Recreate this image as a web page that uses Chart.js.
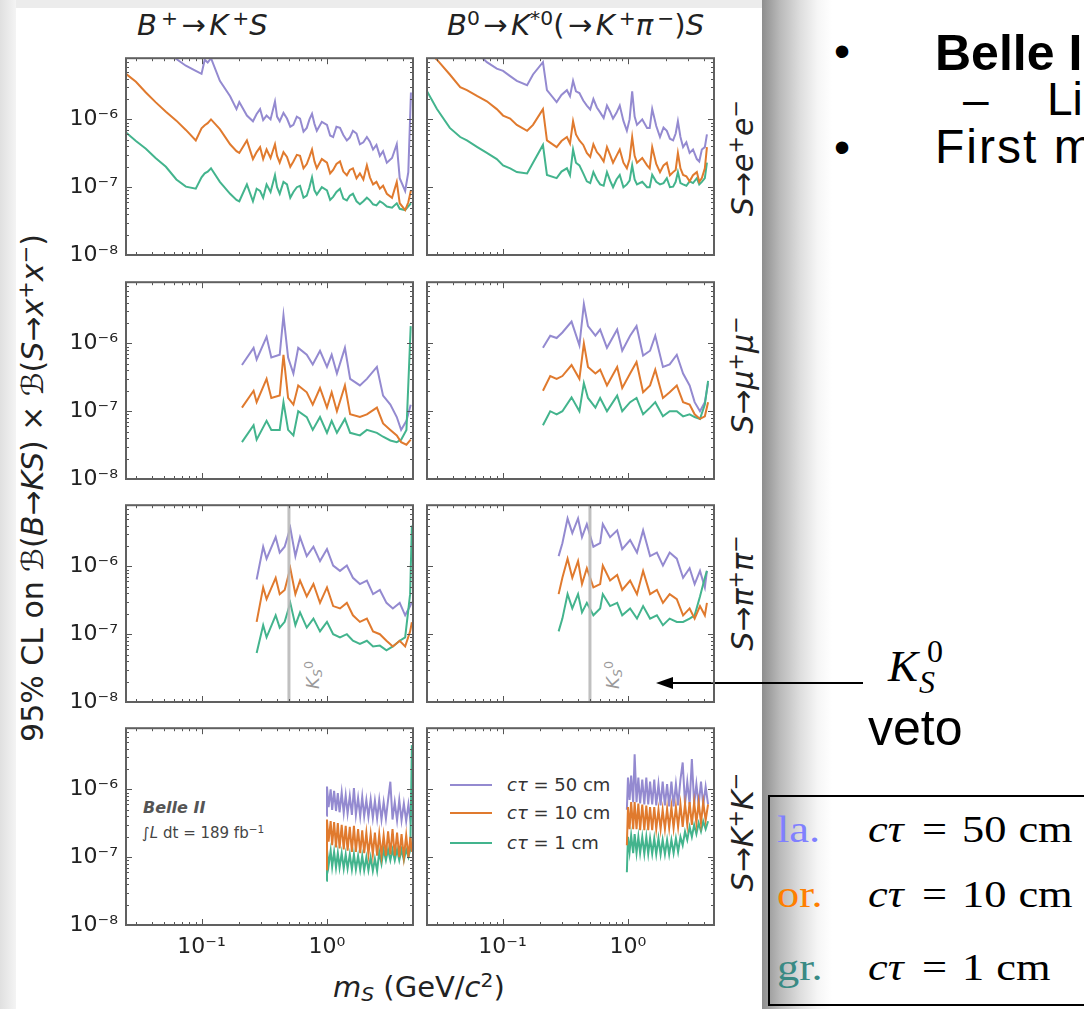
<!DOCTYPE html>
<html>
<head>
<meta charset="utf-8">
<script src="https://cdn.jsdelivr.net/npm/chart.js"></script>
<style>
html,body{margin:0;padding:0}
body{position:relative;width:1084px;height:1009px;overflow:hidden;background:#fff;font-family:"Liberation Sans",Arial,Helvetica,sans-serif;color:#000}
.a{position:absolute;white-space:nowrap;line-height:1}
.rot{position:absolute;white-space:nowrap;line-height:1;transform:translate(-50%,-50%) rotate(-90deg)}
.dv{font-family:"DejaVu Sans",sans-serif;color:#222}
.dv sup{font-size:0.7em;vertical-align:0.5em;line-height:0}
.dv sub{font-size:0.7em;vertical-align:-0.22em;line-height:0}
.rel{margin:0 0.12em}
canvas{position:absolute}
.serif{font-family:"Liberation Serif","Times New Roman",serif}
.wide{transform:scaleX(1.2);transform-origin:0 0}
</style>
</head>
<body>
<!-- slide background pieces -->
<div class="a" style="left:0;top:0;width:762px;height:8px;background:#ececec"></div>
<div class="a" style="left:0;top:0;width:16px;height:1009px;background:linear-gradient(to right,#e0e0e0,#f4f4f4)"></div>
<div class="a" style="left:762px;top:0;width:70px;height:1009px;background:linear-gradient(to right,#8e8e8e 0%,#bababa 26%,#dedede 55%,#f6f6f6 80%,#fff 100%)"></div>

<!-- column titles -->
<div class="a dv" style="left:137px;top:11px;font-size:29px"><i>B</i><sup>&#8201;+</sup><span class="rel">→</span><i>K</i><sup>&#8201;+</sup><i>S</i></div>
<div class="a dv" style="left:447px;top:11px;font-size:29px"><i>B</i><sup>0</sup><span class="rel">→</span><i>K</i><sup>*0</sup>(<span class="rel">→</span><i>K</i><sup>&#8201;+</sup><i>π</i><sup>&#8201;−</sup>)<i>S</i></div>

<!-- row labels -->
<div class="rot dv" style="left:743px;top:158px;font-size:30px"><i>S</i>→<i>e</i><sup>+</sup><i>e</i><sup>−</sup></div>
<div class="rot dv" style="left:743px;top:375px;font-size:30px"><i>S</i>→<i>μ</i><sup>+</sup><i>μ</i><sup>−</sup></div>
<div class="rot dv" style="left:743px;top:593px;font-size:30px"><i>S</i>→<i>π</i><sup>+</sup><i>π</i><sup>−</sup></div>
<div class="rot dv" style="left:743px;top:832px;font-size:30px"><i>S</i>→<i>K</i><sup>+</sup><i>K</i><sup>−</sup></div>

<!-- axis titles -->
<div class="rot dv" style="left:33px;top:488px;font-size:30px">95% CL on ℬ(<i>B</i>→<i>KS</i>) × ℬ(<i>S</i>→<i>x</i><sup>+</sup><i>x</i><sup>−</sup>)</div>
<div class="a dv" style="left:333px;top:973px;font-size:29px"><i>m</i><sub><i>S</i></sub> (GeV/<i>c</i><sup>2</sup>)</div>

<!-- K_S veto labels inside pi pi panels -->
<div class="rot dv" style="left:313px;top:675px;font-size:18px;color:#9a9a9a"><i>K</i><sub><i>S</i></sub><sup>0</sup></div>
<div class="rot dv" style="left:613px;top:675px;font-size:18px;color:#9a9a9a"><i>K</i><sub><i>S</i></sub><sup>0</sup></div>

<!-- Belle II label -->
<div class="a dv" style="left:143px;top:800px;font-size:16px;font-weight:bold;font-style:italic;color:#555">Belle II</div>
<div class="a dv" style="left:142px;top:826px;font-size:15px;color:#444">∫<i>L</i> dt = 189 fb<sup>−1</sup></div>

<!-- in-plot legend -->
<div class="a" style="left:450px;top:784px;width:42px;height:2px;background:#948ad0"></div>
<div class="a" style="left:450px;top:812px;width:42px;height:2px;background:#e07a2e"></div>
<div class="a" style="left:450px;top:842px;width:42px;height:2px;background:#43b48d"></div>
<div class="a dv" style="left:507px;top:776px;font-size:18px;color:#333"><i>cτ</i> = 50 cm</div>
<div class="a dv" style="left:507px;top:804px;font-size:18px;color:#333"><i>cτ</i> = 10 cm</div>
<div class="a dv" style="left:507px;top:834px;font-size:18px;color:#333"><i>cτ</i> = 1 cm</div>

<!-- slide text on the right -->
<div class="a" style="left:834px;top:28px;font-size:46px">•</div>
<div class="a" style="left:935px;top:28px;font-size:50px;font-weight:bold">Belle II</div>
<div class="a" style="left:963px;top:76px;font-size:46px">–</div>
<div class="a" style="left:1047px;top:76px;font-size:46px">Limits</div>
<div class="a" style="left:834px;top:124px;font-size:46px">•</div>
<div class="a" style="left:935px;top:123px;font-size:48px;letter-spacing:2px">First measurement</div>

<div class="a serif" style="left:888px;top:644px;font-size:45px;font-style:italic">K</div>
<div class="a serif" style="left:927px;top:635px;font-size:32px">0</div>
<div class="a serif" style="left:919px;top:666px;font-size:32px;font-style:italic">S</div>
<div class="a" style="left:868px;top:703px;font-size:50px">veto</div>

<svg class="a" style="left:0;top:0" width="1084" height="1009">
  <line x1="670" y1="683" x2="863" y2="683" stroke="#000" stroke-width="2"/>
  <polygon points="656,683 673,677 673,689" fill="#000"/>
</svg>

<div class="a" style="left:768px;top:795px;width:330px;height:211px;border:2px solid #000;box-sizing:border-box"></div>
<div class="a serif wide" style="left:777px;top:811px;font-size:37px;color:#8080ff">la.</div>
<div class="a serif wide" style="left:868px;top:811px;font-size:37px"><i>cτ</i></div>
<div class="a serif wide" style="left:922px;top:811px;font-size:37px">=</div>
<div class="a serif wide" style="left:962px;top:811px;font-size:37px">50<span style="margin-left:10px">cm</span></div>
<div class="a serif wide" style="left:777px;top:876px;font-size:37px;color:#ff7f00">or.</div>
<div class="a serif wide" style="left:868px;top:876px;font-size:37px"><i>cτ</i></div>
<div class="a serif wide" style="left:922px;top:876px;font-size:37px">=</div>
<div class="a serif wide" style="left:962px;top:876px;font-size:37px">10<span style="margin-left:10px">cm</span></div>
<div class="a serif wide" style="left:777px;top:949px;font-size:37px;color:#3a8a84">gr.</div>
<div class="a serif wide" style="left:868px;top:949px;font-size:37px"><i>cτ</i></div>
<div class="a serif wide" style="left:922px;top:949px;font-size:37px">=</div>
<div class="a serif wide" style="left:962px;top:949px;font-size:37px">1<span style="margin-left:10px">cm</span></div>

<script>
// ---------------- data ----------------
const seriesNames = ['cτ = 50 cm', 'cτ = 10 cm', 'cτ = 1 cm'];
const K_S_MASS = 0.4976;

const yMajorTicks = [1e-8, 1e-7, 1e-6];
const yTickLabels = ['10⁻⁸', '10⁻⁷', '10⁻⁶'];
const xMajorTicks = [0.1, 1];
const xTickLabels = ['10⁻¹', '10⁰'];

// B+ -> K+ S, S -> e+ e-
const mass_ee_Bp = [0.025,0.03,0.036,0.043,0.052,0.063,0.075,0.09,0.1,0.106,0.112,0.119,0.14,0.169,0.19,0.2,0.23,0.257,0.275,0.293,0.31,0.33,0.355,0.385,0.40,0.42,0.45,0.48,0.51,0.54,0.575,0.61,0.65,0.69,0.725,0.76,0.795,0.83,0.91,1.0,1.06,1.12,1.19,1.27,1.35,1.44,1.52,1.61,1.72,1.83,1.95,2.08,2.2,2.33,2.48,2.64,2.8,3.0,3.3,3.6,3.8,4.2,4.45,4.67];
const ul_ee_Bp_50 = [3.2e-5,2.4e-5,1.8e-5,1.4e-5,1.05e-5,7.8e-6,6.2e-6,5.2e-6,4.7e-6,7.6e-6,6.9e-6,8e-6,3.7e-6,2.2e-6,1.42e-6,1.8e-6,1.14e-6,9.4e-7,1.2e-6,1.42e-6,9.8e-7,1.14e-6,1.0e-6,1.84e-6,1.1e-6,9.4e-7,1.25e-6,1.03e-6,7.8e-7,8.3e-7,1.1e-6,1.03e-6,6.6e-7,7.5e-7,1.0e-6,1.21e-6,8.6e-7,6.8e-7,9.2e-7,8.3e-7,5.8e-7,5.5e-7,7.8e-7,7.5e-7,5.9e-7,4.9e-7,5.4e-7,6.8e-7,6.2e-7,4.3e-7,4.6e-7,5.5e-7,4.7e-7,3.6e-7,4.2e-7,2.9e-7,3.4e-7,2.3e-7,2.7e-7,4.3e-7,1.36e-7,8.8e-8,1.67e-7,2.5e-6];
const ul_ee_Bp_10 = [4.7e-6,3.6e-6,2.5e-6,1.8e-6,1.3e-6,9.6e-7,7e-7,4.9e-7,7.4e-7,8.2e-7,8.8e-7,1.0e-6,7.2e-7,4.3e-7,3.4e-7,3.2e-7,4.9e-7,2.6e-7,3.3e-7,3.9e-7,2.6e-7,3.6e-7,2.7e-7,4.3e-7,2.9e-7,2.3e-7,3.3e-7,2.8e-7,2.0e-7,2.4e-7,3.0e-7,2.9e-7,1.9e-7,2.2e-7,2.8e-7,3.6e-7,2.4e-7,1.9e-7,2.6e-7,2.3e-7,1.6e-7,1.8e-7,2.2e-7,2.4e-7,1.7e-7,1.5e-7,1.8e-7,1.9e-7,1.35e-7,1.6e-7,1.3e-7,2.1e-7,1.4e-7,1.1e-7,1.2e-7,9.5e-8,1.05e-7,8e-8,7e-8,1.2e-7,5.8e-8,4.6e-8,6e-8,9e-8];
const ul_ee_Bp_1 = [6.4e-7,4.8e-7,3.7e-7,2.7e-7,2e-7,1.3e-7,1.02e-7,9.5e-8,1.4e-7,1.6e-7,1.7e-7,1.9e-7,1.2e-7,8e-8,6.5e-8,6.2e-8,1.1e-7,6.2e-8,9.5e-8,8.8e-8,7e-8,1.1e-7,8.5e-8,1.5e-7,1.0e-7,8e-8,1.2e-7,1.1e-7,7e-8,8.5e-8,1.0e-7,1.05e-7,7e-8,7.5e-8,1.0e-7,1.4e-7,9e-8,7.8e-8,1.0e-7,9e-8,6.5e-8,7.2e-8,8.5e-8,9.5e-8,6.8e-8,6.4e-8,7.5e-8,8e-8,6.2e-8,5.6e-8,6.2e-8,7e-8,6.4e-8,5.6e-8,5.4e-8,6.2e-8,5.8e-8,5.2e-8,5e-8,5.8e-8,4.8e-8,4.6e-8,5.2e-8,5.8e-8];

// B0 -> K*0 S, S -> e+ e-
const mass_ee_B0 = [0.025,0.03,0.038,0.046,0.052,0.063,0.075,0.09,0.101,0.115,0.13,0.157,0.175,0.21,0.226,0.27,0.295,0.326,0.345,0.365,0.385,0.41,0.44,0.47,0.5,0.53,0.565,0.6,0.64,0.68,0.72,0.76,0.81,0.86,0.92,0.98,1.03,1.08,1.13,1.18,1.3,1.42,1.49,1.56,1.68,1.8,1.92,2.04,2.16,2.29,2.4,2.5,2.62,2.75,2.92,3.1,3.3,3.54,3.7,3.88,4.1,4.26];
const ul_ee_B0_50 = [3.5e-5,2.8e-5,2.2e-5,1.7e-5,1.4e-5,9.5e-6,7e-6,5.6e-6,5.2e-6,4.35e-6,3.7e-6,3.2e-6,4.6e-6,7e-6,2.7e-6,1.8e-6,2.3e-6,2.7e-6,2.2e-6,3.7e-6,2.6e-6,2.45e-6,1.9e-6,1.6e-6,1.4e-6,2e-6,1.5e-6,1.27e-6,1.05e-6,1.6e-6,1.3e-6,1.03e-6,1.25e-6,1.6e-6,9.5e-7,6.8e-7,1.0e-6,2.6e-6,1.1e-6,8.3e-7,1.0e-6,7.5e-7,7.5e-7,1.42e-6,8e-7,5.5e-7,7.6e-7,6.8e-7,5.2e-7,4.9e-7,6.2e-7,9.4e-7,5.5e-7,3.9e-7,4.6e-7,3.2e-7,3.6e-7,2.6e-7,2.4e-7,3.6e-7,3.9e-7,6e-7];
const ul_ee_B0_10 = [1.05e-5,7.6e-6,4.6e-6,3e-6,2.7e-6,2.2e-6,1.85e-6,1.42e-6,1.14e-6,1.03e-6,8.3e-7,6.8e-7,8.3e-7,1.42e-6,4.9e-7,3.9e-7,4.8e-7,5.5e-7,4.4e-7,9.4e-7,6e-7,4.9e-7,4.2e-7,3.2e-7,2.8e-7,4.3e-7,3.3e-7,2.9e-7,2.4e-7,3.9e-7,3e-7,2.3e-7,2.9e-7,3.6e-7,2.3e-7,1.9e-7,2.6e-7,5.5e-7,2.9e-7,2.3e-7,2.7e-7,2.1e-7,1.9e-7,3.9e-7,2.2e-7,1.67e-7,2.1e-7,2.3e-7,1.5e-7,1.67e-7,1.8e-7,3.2e-7,1.9e-7,1.52e-7,1.45e-7,1.22e-7,1.5e-7,1.67e-7,1.2e-7,1.36e-7,1.9e-7,3.9e-7];
const ul_ee_B0_1 = [2.6e-6,1.42e-6,7.5e-7,5.5e-7,4.9e-7,3.9e-7,3.2e-7,2.6e-7,2.1e-7,1.9e-7,1.67e-7,1.6e-7,2.3e-7,4.2e-7,1.52e-7,1.36e-7,1.7e-7,1.9e-7,1.5e-7,3.6e-7,2.3e-7,2.1e-7,1.6e-7,1.22e-7,1.15e-7,1.67e-7,1.3e-7,1.1e-7,1.05e-7,1.67e-7,1.25e-7,1e-7,1.3e-7,1.52e-7,1.0e-7,1.1e-7,1.25e-7,2.1e-7,1.3e-7,1.1e-7,1.2e-7,1e-7,1.0e-7,1.52e-7,1.2e-7,1.1e-7,1.15e-7,1.36e-7,1.0e-7,1.02e-7,1.2e-7,1.67e-7,1.15e-7,1.1e-7,1.05e-7,1.22e-7,1.15e-7,1.36e-7,1.1e-7,1.2e-7,1.36e-7,2.3e-7];

// B+ -> K+ S, S -> mu+ mu-
const mass_mm_Bp = [0.21,0.26,0.275,0.33,0.36,0.42,0.45,0.49,0.54,0.59,0.69,0.77,0.88,1.0,1.09,1.2,1.39,1.53,1.83,2.08,2.5,2.8,3.2,3.6,3.9,4.3,4.65];
const ul_mm_Bp_50 = [4.8e-7,8.6e-7,5.8e-7,1.25e-6,6.2e-7,6.8e-7,2.6e-6,6.2e-7,3.6e-7,8.6e-7,6.8e-7,4.9e-7,7.8e-7,4.5e-7,6.8e-7,3.6e-7,8.6e-7,3e-7,2.4e-7,3e-7,4.5e-7,1.7e-7,1.25e-7,8.2e-8,5.3e-8,7.2e-8,1.25e-7];
const ul_mm_Bp_10 = [1.13e-7,2e-7,1.36e-7,3e-7,1.57e-7,1.7e-7,6.8e-7,1.57e-7,1.25e-7,2.4e-7,1.9e-7,1.25e-7,2.2e-7,1.13e-7,1.9e-7,1e-7,2.4e-7,9e-8,8.2e-8,9e-8,1.13e-7,6.6e-8,5.3e-8,4.4e-8,3.5e-8,3.2e-8,3.8e-8];
const ul_mm_Bp_1 = [3.5e-8,6.2e-8,3.8e-8,7.2e-8,5.3e-8,5.3e-8,1.36e-7,5.3e-8,4.4e-8,1e-7,8.2e-8,5.3e-8,8.2e-8,4.8e-8,7.2e-8,4.8e-8,7.7e-8,4.8e-8,4.4e-8,5.3e-8,4.8e-8,4.2e-8,3.7e-8,3.5e-8,3.8e-8,5.3e-8,1.8e-6];

// B0 -> K*0 S, S -> mu+ mu-
const mass_mm_B0 = [0.21,0.24,0.27,0.3,0.355,0.41,0.445,0.48,0.55,0.6,0.68,0.82,0.9,1.04,1.17,1.32,1.5,1.65,1.9,2.15,2.45,2.75,3.1,3.4,3.75,4.1,4.35];
const ul_mm_B0_50 = [8.6e-7,1.3e-6,1.2e-6,1.45e-6,2.1e-6,9.4e-7,3.8e-6,1.8e-6,1.3e-6,1.6e-6,8.6e-7,1.6e-6,7.8e-7,1.3e-6,1.8e-6,6.6e-7,7.8e-7,1.3e-6,4.5e-7,4.9e-7,6.8e-7,3.6e-7,2.4e-7,1.36e-7,1e-7,1.36e-7,2.6e-7];
const ul_mm_B0_10 = [2e-7,3.3e-7,3e-7,3.3e-7,4.8e-7,3e-7,1e-6,4.5e-7,3.6e-7,4.1e-7,2.4e-7,4.5e-7,2.2e-7,3.6e-7,5.3e-7,1.9e-7,2.4e-7,4.1e-7,1.57e-7,1.9e-7,2.4e-7,1.36e-7,1.25e-7,9e-8,7.7e-8,8.4e-8,1.36e-7];
const ul_mm_B0_1 = [6.2e-8,1e-7,9e-8,1e-7,1.6e-7,1e-7,2.6e-7,1.57e-7,1.13e-7,1.57e-7,1e-7,1.7e-7,1e-7,1.36e-7,1.57e-7,9e-8,1.13e-7,1.36e-7,8.4e-8,1e-7,1e-7,8.4e-8,9e-8,8.2e-8,7.7e-8,1.25e-7,2.8e-7];

// B+ -> K+ S, S -> pi+ pi-
const mass_pp_Bp = [0.275,0.31,0.33,0.39,0.42,0.46,0.51,0.56,0.61,0.69,0.78,0.88,1.0,1.12,1.27,1.44,1.61,1.83,2.08,2.33,2.64,2.98,3.35,3.8,4.2,4.6,4.75];
const ul_pp_Bp_50 = [6.4e-7,1.95e-6,1.3e-6,2.7e-6,1.6e-6,1.95e-6,3.7e-6,1.42e-6,2.7e-6,1.42e-6,1.95e-6,1.2e-6,1.8e-6,1.03e-6,8.6e-7,1.03e-6,6.8e-7,5.5e-7,6.2e-7,3.9e-7,4.5e-7,2.9e-7,2.4e-7,2.9e-7,1.9e-7,2.6e-7,3e-7];
const ul_pp_Bp_10 = [1.52e-7,4.9e-7,3.3e-7,6.8e-7,3.9e-7,4.5e-7,9.4e-7,3.9e-7,6.2e-7,3.6e-7,5.5e-7,2.9e-7,4.9e-7,2.6e-7,2.4e-7,2.9e-7,1.9e-7,1.52e-7,1.7e-7,1.1e-7,1e-7,8e-8,6.6e-8,8e-8,6.6e-8,1.1e-7,1.5e-7];
const ul_pp_Bp_1 = [5.3e-8,1.36e-7,9e-8,1.9e-7,1.25e-7,1.52e-7,2.9e-7,1.36e-7,2.1e-7,1.25e-7,1.7e-7,1.1e-7,1.52e-7,1e-7,9e-8,1e-7,8e-8,7.2e-8,8e-8,6.6e-8,6.8e-8,5.8e-8,6.6e-8,8e-8,9e-8,3.9e-7,4e-6];

// B0 -> K*0 S, S -> pi+ pi-
const mass_pp_B0 = [0.28,0.3,0.33,0.36,0.4,0.43,0.47,0.53,0.6,0.63,0.72,0.82,0.9,1.04,1.18,1.32,1.5,1.7,1.9,2.15,2.45,2.75,3.1,3.4,3.75,4.1,4.26];
const ul_pp_B0_50 = [1.42e-6,2.2e-6,5.1e-6,3.1e-6,5.1e-6,2.7e-6,4.2e-6,1.95e-6,2.2e-6,4.2e-6,2.7e-6,3.4e-6,1.8e-6,2.45e-6,1.6e-6,3.4e-6,1.42e-6,1.6e-6,1.03e-6,1.6e-6,1.3e-6,6.8e-7,9.4e-7,5.5e-7,8.6e-7,4.9e-7,8.6e-7];
const ul_pp_B0_10 = [3.9e-7,6.8e-7,1.3e-6,6.8e-7,1.2e-6,5.5e-7,9.4e-7,4.9e-7,5.5e-7,1.03e-6,6.2e-7,7.5e-7,4.5e-7,6.2e-7,3.9e-7,8.6e-7,3.9e-7,4.5e-7,2.9e-7,3.9e-7,3.3e-7,1.9e-7,2.4e-7,1.7e-7,2.6e-7,1.9e-7,2.9e-7];
const ul_pp_B0_1 = [1.1e-7,1.7e-7,3.9e-7,2.4e-7,3.9e-7,2.1e-7,2.9e-7,1.9e-7,2.4e-7,3.9e-7,2.6e-7,2.9e-7,1.9e-7,2.4e-7,1.7e-7,2.6e-7,1.7e-7,1.9e-7,1.36e-7,1.7e-7,1.52e-7,1.52e-7,1.7e-7,1.9e-7,3.6e-7,6.8e-7,8.6e-7];

// B+ -> K+ S, S -> K+ K-
const mass_KK_Bp = [0.99,1.0,1.03,1.07,1.1,1.14,1.18,1.22,1.26,1.31,1.36,1.41,1.46,1.52,1.58,1.64,1.7,1.77,1.84,1.91,1.98,2.06,2.14,2.23,2.32,2.41,2.51,2.61,2.72,2.83,2.95,3.07,3.2,3.33,3.47,3.62,3.77,3.93,4.1,4.28,4.46,4.62,4.75];
const ul_KK_Bp_50 = [4.1e-7,1.1e-6,5.5e-7,1.0e-6,5e-7,9.5e-7,4.8e-7,8.8e-7,4.6e-7,9e-7,4.5e-7,8.2e-7,4.4e-7,8e-7,4.2e-7,1.05e-6,4.2e-7,7.5e-7,4e-7,7.8e-7,4e-7,7e-7,3.9e-7,7.2e-7,3.8e-7,6.8e-7,3.7e-7,7e-7,3.6e-7,6.5e-7,3.7e-7,7e-7,1.3e-6,3.6e-7,6.5e-7,3.5e-7,7e-7,3.5e-7,6.2e-7,3.4e-7,6e-7,3.5e-7,5e-7];
const ul_KK_Bp_10 = [6.6e-8,3.6e-7,1.7e-7,3.4e-7,1.5e-7,3.3e-7,1.4e-7,3.2e-7,1.35e-7,3e-7,1.3e-7,2.9e-7,1.25e-7,2.8e-7,1.2e-7,2.9e-7,1.2e-7,2.6e-7,1.15e-7,2.5e-7,1.15e-7,2.3e-7,1.1e-7,2.2e-7,1.1e-7,2.3e-7,1.05e-7,2.2e-7,1.05e-7,2.1e-7,1.05e-7,2.4e-7,1.1e-7,2.6e-7,1.05e-7,2.3e-7,1e-7,2.2e-7,1e-7,2.1e-7,1e-7,2e-7,1.2e-7];
const ul_KK_Bp_1 = [4.5e-8,1.3e-7,7.5e-8,1.25e-7,7.2e-8,1.2e-7,7e-8,1.15e-7,7e-8,1.15e-7,6.8e-8,1.1e-7,6.8e-8,1.1e-7,6.6e-8,1.1e-7,6.6e-8,1.05e-7,6.5e-8,1.05e-7,6.4e-8,1e-7,6.4e-8,1e-7,6.3e-8,9.5e-8,6.3e-8,1.2e-7,8e-8,1.3e-7,9e-8,1.3e-7,9e-8,1.3e-7,9e-8,1.3e-7,9e-8,1.3e-7,9e-8,1.3e-7,1e-7,1.3e-7,4.5e-6];

// B0 -> K*0 S, S -> K+ K-
const mass_KK_B0 = [0.98,1.0,1.03,1.06,1.1,1.13,1.17,1.21,1.25,1.3,1.35,1.4,1.45,1.5,1.56,1.62,1.68,1.75,1.82,1.89,1.97,2.05,2.13,2.22,2.31,2.41,2.51,2.62,2.73,2.85,2.97,3.1,3.23,3.37,3.51,3.66,3.82,3.98,4.16,4.35];
const ul_KK_B0_50 = [5e-7,1.5e-6,7e-7,1.6e-6,6.5e-7,3.3e-6,6.5e-7,1.5e-6,6.2e-7,1.4e-6,6e-7,1.5e-6,6e-7,1.3e-6,6e-7,1.4e-6,5.8e-7,1.2e-6,5.8e-7,1.3e-6,5.8e-7,1.2e-6,5.6e-7,1.3e-6,5.6e-7,1.2e-6,5.8e-7,1.4e-6,2.5e-6,6e-7,1.3e-6,6e-7,2.8e-6,6e-7,1.2e-6,5.8e-7,1.3e-6,5.8e-7,1.1e-6,6e-7];
const ul_KK_B0_10 = [1.5e-7,5.5e-7,2.6e-7,6.5e-7,2.6e-7,6.5e-7,2.6e-7,6.2e-7,2.5e-7,6e-7,2.5e-7,5.8e-7,2.5e-7,5.5e-7,2.5e-7,5.5e-7,2.6e-7,5e-7,2.6e-7,5e-7,2.6e-7,5.2e-7,2.7e-7,5.5e-7,2.7e-7,5.5e-7,2.8e-7,6e-7,2.8e-7,6.2e-7,3e-7,6.5e-7,3e-7,6.5e-7,3.2e-7,6.5e-7,3.2e-7,6.5e-7,3.5e-7,6e-7];
const ul_KK_B0_1 = [6e-8,2e-7,1.2e-7,2.1e-7,1.15e-7,2.2e-7,1.15e-7,2e-7,1.15e-7,2e-7,1.12e-7,2e-7,1.12e-7,1.9e-7,1.12e-7,1.9e-7,1.1e-7,1.9e-7,1.1e-7,1.8e-7,1.1e-7,1.8e-7,1.1e-7,1.8e-7,1.15e-7,1.9e-7,1.2e-7,2e-7,1.5e-7,2.4e-7,1.8e-7,2.8e-7,2e-7,3e-7,2.2e-7,3.2e-7,2.4e-7,3.4e-7,2.6e-7,3.4e-7];

// ---------------- layout ----------------
const X_MIN = 0.025, X_MAX = 4.85, Y_MIN = 1e-8, Y_MAX = 8e-6;
const colLeft = [126, 427], rowTop = [43, 267, 490, 713];
const PW = 287, PH = 212, LW = 80, PT = 6, PR = 6, LH = 48;
const lineColors = ['#948ad0', '#e07a2e', '#43b48d'];
const lineOrder = [3, 1, 2];

const panels = [
  {c:0, r:0, m:mass_ee_Bp, s:[ul_ee_Bp_50, ul_ee_Bp_10, ul_ee_Bp_1]},
  {c:1, r:0, m:mass_ee_B0, s:[ul_ee_B0_50, ul_ee_B0_10, ul_ee_B0_1]},
  {c:0, r:1, m:mass_mm_Bp, s:[ul_mm_Bp_50, ul_mm_Bp_10, ul_mm_Bp_1]},
  {c:1, r:1, m:mass_mm_B0, s:[ul_mm_B0_50, ul_mm_B0_10, ul_mm_B0_1]},
  {c:0, r:2, m:mass_pp_Bp, s:[ul_pp_Bp_50, ul_pp_Bp_10, ul_pp_Bp_1], veto:true},
  {c:1, r:2, m:mass_pp_B0, s:[ul_pp_B0_50, ul_pp_B0_10, ul_pp_B0_1], veto:true},
  {c:0, r:3, m:mass_KK_Bp, s:[ul_KK_Bp_50, ul_KK_Bp_10, ul_KK_Bp_1]},
  {c:1, r:3, m:mass_KK_B0, s:[ul_KK_B0_50, ul_KK_B0_10, ul_KK_B0_1]}
];

function isPow10(v){ const e = Math.log10(v); return Math.abs(e - Math.round(e)) < 1e-6; }
function logTicks(min, max){
  const out = [];
  for (let e = Math.floor(Math.log10(min)); e <= Math.ceil(Math.log10(max)); e++){
    for (let k = 1; k <= 9; k++){
      const v = k * Math.pow(10, e);
      if (v >= min*0.9999 && v <= max*1.0001) out.push(v);
    }
  }
  return out;
}
function labelFor(v, majors, labels){
  for (let i = 0; i < majors.length; i++){
    if (Math.abs(v/majors[i] - 1) < 1e-6) return labels[i];
  }
  return '';
}
const xTickVals = logTicks(X_MIN, X_MAX);
const yTickVals = logTicks(Y_MIN, Y_MAX);

const frameTicks = {
  id: 'frameTicks',
  afterDatasetsDraw(chart){
    const {ctx, chartArea: a, scales: {x, y}} = chart;
    ctx.save();
    ctx.strokeStyle = '#555';
    ctx.lineWidth = 1;
    ctx.beginPath();
    x.ticks.forEach(t => {
      const px = Math.round(x.getPixelForValue(t.value)) + 0.5;
      const len = isPow10(t.value) ? 6 : 3;
      ctx.moveTo(px, a.bottom); ctx.lineTo(px, a.bottom - len);
      ctx.moveTo(px, a.top); ctx.lineTo(px, a.top + len);
    });
    y.ticks.forEach(t => {
      const py = Math.round(y.getPixelForValue(t.value)) + 0.5;
      const len = isPow10(t.value) ? 6 : 3;
      ctx.moveTo(a.left, py); ctx.lineTo(a.left + len, py);
      ctx.moveTo(a.right, py); ctx.lineTo(a.right - len, py);
    });
    ctx.stroke();
    ctx.lineWidth = 2;
    ctx.strokeStyle = '#606060';
    ctx.strokeRect(a.left, a.top, a.right - a.left, a.bottom - a.top);
    ctx.restore();
  }
};

panels.forEach(p => {
  const cw = PW + LW + PR, ch = PH + PT + LH;
  const cv = document.createElement('canvas');
  cv.width = cw; cv.height = ch;
  cv.style.left = (colLeft[p.c] - LW) + 'px';
  cv.style.top = (rowTop[p.r] - PT) + 'px';
  cv.style.width = cw + 'px'; cv.style.height = ch + 'px';
  document.body.appendChild(cv);

  const datasets = p.s.map((vals, i) => ({
    label: seriesNames[i],
    data: p.m.map((m, j) => ({x: m, y: vals[j]})),
    borderColor: lineColors[i],
    borderWidth: 2,
    pointRadius: 0,
    tension: 0,
    fill: false,
    order: lineOrder[i]
  }));
  if (p.veto){
    datasets.push({
      label: 'K_S veto',
      data: [{x: K_S_MASS, y: Y_MIN}, {x: K_S_MASS, y: Y_MAX}],
      borderColor: 'rgba(185,185,185,0.9)',
      borderWidth: 3,
      pointRadius: 0,
      order: 0
    });
  }

  new Chart(cv, {
    type: 'line',
    data: {datasets},
    options: {
      responsive: false,
      animation: false,
      devicePixelRatio: 1,
      layout: {padding: {top: PT, right: PR, left: 0, bottom: 0}},
      plugins: {legend: {display: false}, tooltip: {enabled: false}},
      scales: {
        x: {
          type: 'logarithmic', min: X_MIN, max: X_MAX,
          afterBuildTicks: s => { s.ticks = xTickVals.map(v => ({value: v})); },
          afterFit: s => { s.height = LH; },
          grid: {display: false, drawTicks: false},
          border: {display: false},
          ticks: {
            autoSkip: false, maxRotation: 0, minRotation: 0, padding: 9,
            color: '#222', font: {family: 'DejaVu Sans', size: 22},
            callback: v => p.r === 3 ? labelFor(v, xMajorTicks, xTickLabels) : ''
          }
        },
        y: {
          type: 'logarithmic', min: Y_MIN, max: Y_MAX,
          afterBuildTicks: s => { s.ticks = yTickVals.map(v => ({value: v})); },
          afterFit: s => { s.width = LW; },
          grid: {display: false, drawTicks: false},
          border: {display: false},
          ticks: {
            autoSkip: false, padding: 8,
            color: '#222', font: {family: 'DejaVu Sans', size: 22},
            callback: v => p.c === 0 ? labelFor(v, yMajorTicks, yTickLabels) : ''
          }
        }
      }
    },
    plugins: [frameTicks]
  });
});
</script>
</body>
</html>
